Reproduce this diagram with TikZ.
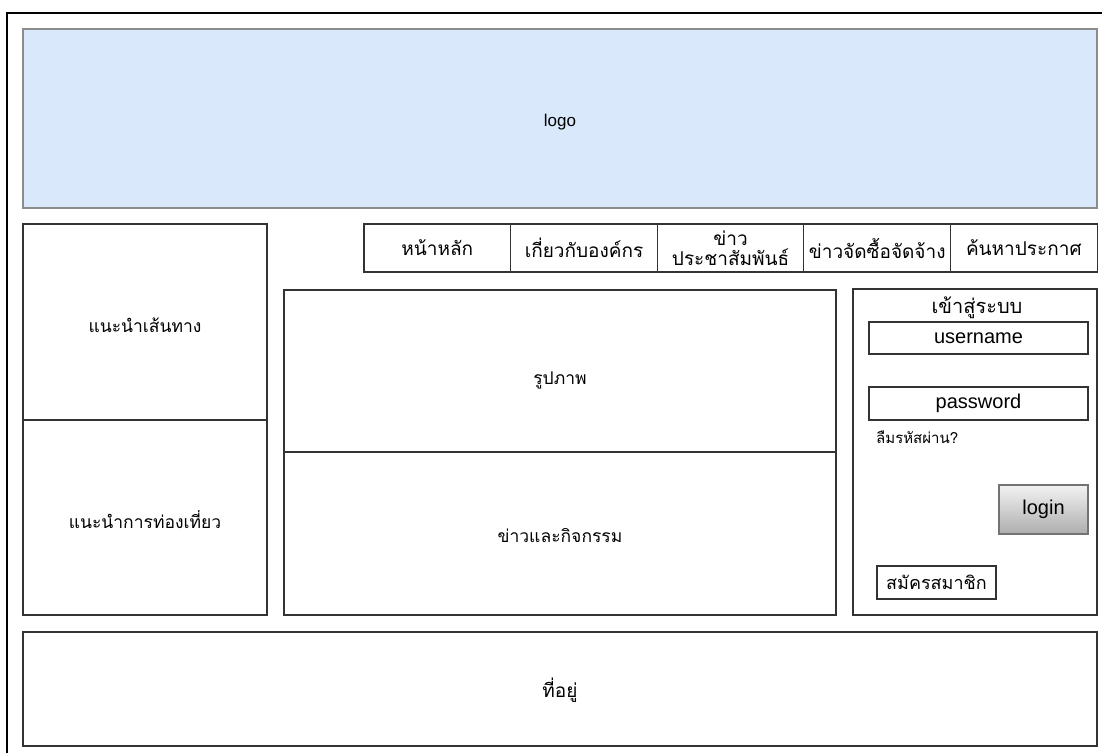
\documentclass[tikz,border=0pt]{standalone}
\usepackage{fontspec}
\setmainfont{Liberation Sans}
\newfontfamily\thaifont[Script=Thai]{Loma}
\tikzset{
  box/.style={draw=black!80, line width=1.1pt, rectangle, inner sep=0pt, fill=white},
  navcell/.style={box, minimum width=146.6pt, minimum height=48pt, align=center, font=\thaifont\fontsize{19}{20}\selectfont},
  txt/.style={inner sep=0pt, font=\thaifont\fontsize{17.5}{20}\selectfont}
}
\begin{document}
\begin{tikzpicture}[x=1pt,y=-1pt]
        \useasboundingbox (0,0) rectangle (1102,753);
        \draw[line width=1.2pt] (7,753) -- (7,13) -- (1102,13);
        \begin{scope}[every node/.style={box}]
            \node[fill={rgb,255:red,218;green,232;blue,252}, draw=black!45, minimum width=1074pt, minimum height=179pt] (logo) at (560, 118.5) {};
            \node[minimum width=244pt, minimum height=196pt] (route) at (145, 322) {};
            \node[minimum width=244pt, minimum height=195pt] (tour) at (145, 517.5) {};
            \node[minimum width=552pt, minimum height=162pt] (photo) at (560, 371) {};
            \node[minimum width=552pt, minimum height=163pt] (news) at (560, 533.5) {};
            \node[minimum width=244pt, minimum height=326pt] (login) at (975, 452) {};
            \node[minimum width=1074pt, minimum height=114pt] (footer) at (560, 689) {};
        \end{scope}
        \begin{scope}[every node/.style={navcell}]
            \node (home) at (437.3, 248) {หน้าหลัก};
            \node (about) at (584, 248) {เกี่ยวกับองค์กร};
            \node (pr) at (730.6, 248) {ข่าว\\ประชาสัมพันธ์};
            \node (proc) at (877.2, 248) {ข่าวจัดซื้อจัดจ้าง};
            \node (search) at (1023.8, 248) {ค้นหาประกาศ};
        \end{scope}
        \begin{scope}[every node/.style={txt}]
            \node (logotext) at (560, 122) {\fontspec{Liberation Sans}\fontsize{17}{17}\selectfont logo};
            \node (routetext) at (145, 325) {แนะนำเส้นทาง};
            \node (tourtext) at (145, 520) {แนะนำการท่องเที่ยว};
            \node (phototext) at (560, 380) {รูปภาพ};
            \node (newstext) at (560, 536) {ข่าวและกิจกรรม};
            \node (addr) at (560, 690) {\fontsize{19}{19}\selectfont ที่อยู่};
            \node (logintitle) at (977, 308) {\fontsize{20}{20}\selectfont เข้าสู่ระบบ};
            \node[anchor=west] (forgot) at (876, 437) {\fontsize{15}{15}\selectfont ลืมรหัสผ่าน?};
        \end{scope}
        \begin{scope}[every node/.style={box, font=\fontsize{20}{20}\selectfont}]
            \node[minimum width=219pt, minimum height=32pt] (user) at (978.5, 338) {username};
            \node[minimum width=219pt, minimum height=33pt] (pass) at (978.5, 403.5) {password};
            \node[draw=black!55, top color=black!5, bottom color=black!32, minimum width=89pt, minimum height=49pt] (loginbtn) at (1043.5, 509.5) {login};
            \node[minimum width=119pt, minimum height=33pt, font=\thaifont\fontsize{18}{18}\selectfont] (register) at (936.5, 582.5) {สมัครสมาชิก};
        \end{scope}
    \end{tikzpicture}
\end{document}
